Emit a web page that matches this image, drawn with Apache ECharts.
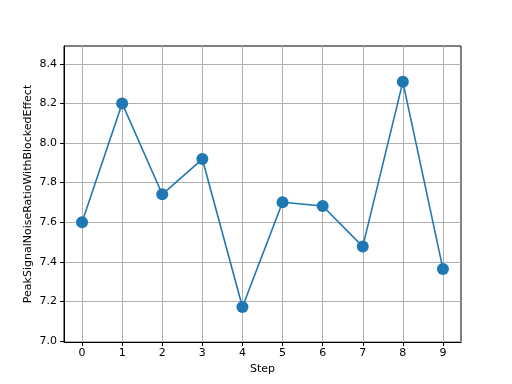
<!DOCTYPE html>
<html>
<head>
<meta charset="utf-8">
<script src="https://cdn.jsdelivr.net/npm/echarts@6/dist/echarts.min.js"></script>
<style>html,body{margin:0;padding:0;background:#fff}#c{width:512px;height:384px}</style>
</head>
<body>
<div id="c"></div>
<script>
const steps = [0, 1, 2, 3, 4, 5, 6, 7, 8, 9];
const psnr = [7.600, 8.200, 7.741, 7.919, 7.172, 7.701, 7.682, 7.477, 8.309, 7.364];
const yTicks = [7.0, 7.2, 7.4, 7.6, 7.8, 8.0, 8.2, 8.4];
const xTicks = [0, 1, 2, 3, 4, 5, 6, 7, 8, 9];

const chart = echarts.init(document.getElementById('c'), null, {renderer: 'canvas'});
const font = 'DejaVu Sans';
chart.setOption({
  animation: false,
  backgroundColor: '#fff',
  grid: {left: 64, top: 46, right: 51, bottom: 42, show: true, borderColor: '#000', borderWidth: 1, backgroundColor: 'transparent'},
  xAxis: {
    type: 'value', min: -0.45, max: 9.45,
    name: 'Step', nameLocation: 'middle', nameGap: 22, nameMoveOverlap: false,
    nameTextStyle: {fontFamily: font, fontSize: 11, color: '#000'},
    axisLine: {show: true, onZero: false, lineStyle: {color: '#000', width: 1}},
    axisTick: {show: true, length: 4, customValues: xTicks, lineStyle: {color: '#000'}},
    axisLabel: {customValues: xTicks, fontFamily: font, fontSize: 11, color: '#000', margin: 6},
    splitLine: {show: true, lineStyle: {color: '#b0b0b0', width: 1}}
  },
  yAxis: {
    type: 'value', min: 6.995, max: 8.49,
    name: 'PeakSignalNoiseRatioWithBlockedEffect', nameLocation: 'middle', nameGap: 30, nameMoveOverlap: false,
    nameTextStyle: {fontFamily: font, fontSize: 11, color: '#000'},
    axisLine: {show: true, onZero: false, lineStyle: {color: '#000', width: 1}},
    axisTick: {show: true, length: 4, customValues: yTicks, lineStyle: {color: '#000'}},
    axisLabel: {customValues: yTicks, fontFamily: font, fontSize: 11, color: '#000', margin: 7,
      formatter: v => v.toFixed(1)},
    splitLine: {show: true, lineStyle: {color: '#b0b0b0', width: 1}}
  },
  series: [{
    type: 'line',
    data: steps.map((s, i) => [s, psnr[i]]),
    symbol: 'circle', symbolSize: 12,
    lineStyle: {color: '#1f77b4', width: 1.6},
    itemStyle: {color: '#1f77b4'}
  }]
});
</script>
</body>
</html>
